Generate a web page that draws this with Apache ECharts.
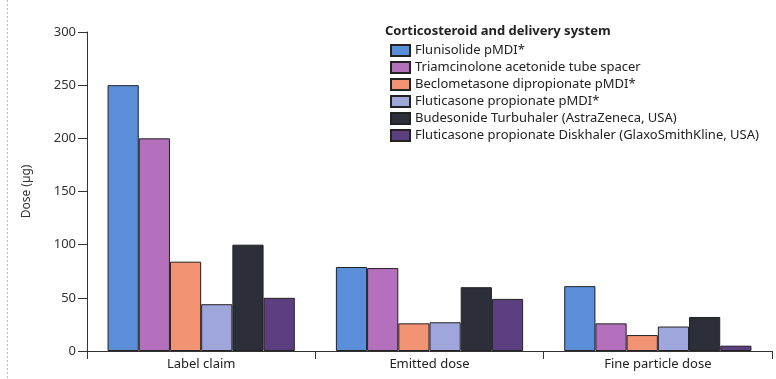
<!DOCTYPE html>
<html style="height: 100%">
<head>
<meta charset="utf-8">
<script src="https://cdn.jsdelivr.net/npm/echarts@6/dist/echarts.min.js"></script>
</head>
<body style="height: 100%; margin: 0; background: #fff">
<div id="container" style="width: 776px; height: 379px"></div>
<script>
// categories on the x axis
var categories = ['Label claim', 'Emitted dose', 'Fine particle dose'];

// one array per inhaler, values in µg
var seriesNames = [
    'Flunisolide pMDI*',
    'Triamcinolone acetonide tube spacer',
    'Beclometasone dipropionate pMDI*',
    'Fluticasone propionate pMDI*',
    'Budesonide Turbuhaler (AstraZeneca, USA)',
    'Fluticasone propionate Diskhaler (GlaxoSmithKline, USA)'
];
var flunisolide   = [250, 79, 61];
var triamcinolone = [200, 78, 26];
var beclometasone = [84, 26, 15];
var fluticasoneMdi = [44, 27, 23];
var budesonide    = [100, 60, 32];
var fluticasoneDisk = [50, 49, 5];

var seriesData = [flunisolide, triamcinolone, beclometasone, fluticasoneMdi, budesonide, fluticasoneDisk];
var colors = ['#5b8ed8', '#b570bd', '#f29373', '#9ea6dc', '#2c2f3a', '#5b3f7e'];

var yTicks = [0, 50, 100, 150, 200, 250, 300];

var font = 'Noto Sans';
var chart = echarts.init(document.getElementById('container'));

var series = seriesNames.map(function (name, i) {
    return {
        name: name,
        type: 'bar',
        data: seriesData[i],
        barGap: '0%',
        barCategoryGap: '18%',
        itemStyle: {color: colors[i], borderColor: '#222', borderWidth: 1},
        emphasis: {disabled: true}
    };
});

chart.setOption({
    animation: false,
    color: colors,
    title: {
        text: 'Corticosteroid and delivery system',
        left: 380,
        top: 20,
        textStyle: {fontFamily: font, fontSize: 13, fontWeight: 'bold', color: '#222'}
    },
    legend: {
        orient: 'vertical',
        left: 385,
        top: 39,
        itemWidth: 19,
        itemHeight: 11,
        itemGap: 4,
        icon: 'rect',
        data: seriesNames,
        textStyle: {fontFamily: font, fontSize: 13, color: '#222'}
    },
    grid: {left: 87, right: 4, top: 32, bottom: 28},
    xAxis: {
        type: 'category',
        data: categories,
        axisLine: {lineStyle: {color: '#333', width: 1}},
        axisTick: {show: true, alignWithLabel: false, length: 8, lineStyle: {color: '#333'}},
        axisLabel: {fontFamily: font, fontSize: 13, color: '#222', margin: 7}
    },
    yAxis: {
        type: 'value',
        min: 0,
        max: 300,
        interval: 50,
        name: 'Dose (µg)',
        nameLocation: 'middle',
        nameGap: 54,
        nameRotate: 90,
        nameTextStyle: {fontFamily: font, fontSize: 12, color: '#333'},
        axisLine: {show: true, lineStyle: {color: '#333', width: 1}},
        axisTick: {show: true, length: 9, lineStyle: {color: '#333'}},
        axisLabel: {
            fontFamily: font, fontSize: 13, color: '#333', margin: 11,
            formatter: function (v) { return yTicks.indexOf(v) >= 0 ? String(v) : ''; }
        },
        splitLine: {show: false}
    },
    graphic: [{
        type: 'line',
        shape: {x1: 7.5, y1: 0, x2: 7.5, y2: 379},
        style: {stroke: '#bbb', lineWidth: 1, lineDash: [2, 2]},
        silent: true
    }],
    series: series
});
</script>
</body>
</html>
